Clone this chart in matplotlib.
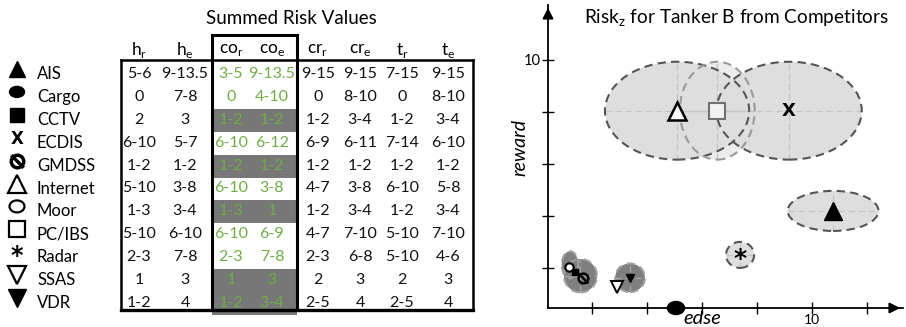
import matplotlib
matplotlib.use("Agg")
import matplotlib.pyplot as plt
from matplotlib.patches import Ellipse, Rectangle
from matplotlib.path import Path

plt.rcParams['font.family'] = ['Lato', 'DejaVu Sans']

# ---------------- data ----------------
components = ["AIS", "Cargo", "CCTV", "ECDIS", "GMDSS", "Internet", "Moor",
              "PC/IBS", "Radar", "SSAS", "VDR"]
h_r  = ["5-6", "0", "2", "6-10", "1-2", "5-10", "1-3", "5-10", "2-3", "1", "1-2"]
h_e  = ["9-13.5", "7-8", "3", "5-7", "1-2", "3-8", "3-4", "6-10", "7-8", "3", "4"]
co_r = ["3-5", "0", "1-2", "6-10", "1-2", "6-10", "1-3", "6-10", "2-3", "1", "1-2"]
co_e = ["9-13.5", "4-10", "1-2", "6-12", "1-2", "3-8", "1", "6-9", "7-8", "3", "3-4"]
cr_r = ["9-15", "0", "1-2", "6-9", "1-2", "4-7", "1-2", "4-7", "2-3", "2", "2-5"]
cr_e = ["9-15", "8-10", "3-4", "6-11", "1-2", "3-8", "3-4", "7-10", "6-8", "3", "4"]
t_r  = ["7-15", "0", "1-2", "7-14", "1-2", "6-10", "1-2", "5-10", "5-10", "2", "2-5"]
t_e  = ["9-15", "8-10", "3-4", "6-10", "1-2", "5-8", "3-4", "7-10", "4-6", "3", "4"]
co_shaded = [False, False, True, False, True, False, True, False, False, True, True]
col_headers = [("h", "r"), ("h", "e"), ("co", "r"), ("co", "e"),
               ("cr", "r"), ("cr", "e"), ("t", "r"), ("t", "e")]

# plot: ellipses (edse centre, reward centre, half-widths)
ell_names = ["Internet", "PC/IBS", "ECDIS", "AIS", "Radar", "VDR", "Moor", "CCTV/GMDSS"]
ell_x  = [5.09, 6.55, 9.16, 10.76, 7.38, 3.38, 1.20, 1.58]
ell_y  = [8.04, 8.04, 8.04, 4.19, 2.50, 1.62, 2.12, 1.70]
ell_rx = [2.62, 1.36, 2.64, 1.65, 0.51, 0.54, 0.30, 0.60]
ell_ry = [1.88, 1.88, 1.88, 0.77, 0.50, 0.55, 0.52, 0.64]

# plot: markers
pt_names = ["Internet", "PC/IBS", "ECDIS", "AIS", "Radar", "VDR", "SSAS",
            "Moor", "CCTV", "GMDSS", "Cargo"]
pt_x = [5.09, 6.55, 9.16, 10.76, 7.38, 3.38, 2.91, 1.16, 1.38, 1.67, 5.05]
pt_y = [8.04, 8.04, 8.04, 4.19, 2.50, 1.62, 1.27, 2.04, 1.85, 1.62, 0.46]

# ---------------- figure ----------------
fig = plt.figure(figsize=(9.06, 3.27), dpi=100)

# table area in pixel-like layout coordinates
axt = fig.add_axes([0, 0, 1, 1])
axt.set_xlim(0, 906)
axt.set_ylim(327, 0)
axt.axis('off')

GREEN = '#70ad47'
GRAY = '#777777'
row_y = [73 + 22.9 * i for i in range(len(components))]
col_x = [139, 185, 231, 272, 318, 360, 402, 448]
half = 11.45

axt.text(291, 18, "Summed Risk Values", ha='center', va='center', fontsize=13.5)

# shaded co cells
for i, sh in enumerate(co_shaded):
    if sh:
        axt.add_patch(Rectangle((212, row_y[i] - half + 1.5), 85, 2 * half,
                                facecolor=GRAY, edgecolor='none', zorder=1))

# table borders
lw = 1.8
axt.plot([121, 473], [60, 60], color='black', lw=lw, zorder=3)
axt.plot([121, 473], [310, 310], color='black', lw=lw + 0.6, zorder=3)
axt.plot([121, 121], [60, 310], color='black', lw=lw, zorder=3)
axt.plot([473, 473], [60, 310], color='black', lw=lw, zorder=3)
axt.add_patch(Rectangle((212, 35), 85, 275, facecolor='none', edgecolor='black',
                        lw=lw + 0.4, zorder=3))

# headers
for (base, sub), x in zip(col_headers, col_x):
    axt.text(x, 50, base + r"$_\mathregular{" + sub + "}$", ha='center',
             va='center', fontsize=12.5)

# body
columns = [h_r, h_e, co_r, co_e, cr_r, cr_e, t_r, t_e]
for j, (col, x) in enumerate(zip(columns, col_x)):
    color = GREEN if j in (2, 3) else '#111111'
    for i, val in enumerate(col):
        axt.text(x, row_y[i] + 1, val, ha='center', va='center', fontsize=11.5,
                 color=color, zorder=4)

# row labels and icons
slash = Path([(-0.75, 0.75), (0.75, -0.75)], [Path.MOVETO, Path.LINETO])
for i, name in enumerate(components):
    y = row_y[i]
    axt.text(37, y + 1, name, ha='left', va='center', fontsize=12)
    iy = y - 4
    if name == "AIS":
        axt.plot(17, iy, marker='^', ms=12, color='black')
    elif name == "Cargo":
        axt.add_patch(Ellipse((17, iy), 15, 11, color='black'))
    elif name == "CCTV":
        axt.plot(17, iy, marker='s', ms=10, color='black')
    elif name == "ECDIS":
        axt.text(17, iy + 1, "X", ha='center', va='center', fontsize=12,
                 fontweight='bold', family='DejaVu Sans')
    elif name == "GMDSS":
        axt.plot(17, iy, marker='o', ms=9, mfc='white', mec='black', mew=2.5)
        axt.plot(17, iy, marker=slash, ms=9, color='black', mew=2.5)
    elif name == "Internet":
        axt.plot(17, iy, marker='^', ms=13, mfc='white', mec='black', mew=1.6)
    elif name == "Moor":
        axt.add_patch(Ellipse((17, iy), 15, 12, facecolor='white',
                              edgecolor='black', lw=1.6))
    elif name == "PC/IBS":
        axt.plot(17, iy, marker='s', ms=11, mfc='white', mec='black', mew=1.6)
    elif name == "Radar":
        axt.text(17, iy + 4, "*", ha='center', va='center', fontsize=17,
                 fontweight='bold', family='DejaVu Sans')
    elif name == "SSAS":
        axt.plot(17, iy, marker='v', ms=13, mfc='white', mec='black', mew=1.6)
    elif name == "VDR":
        axt.plot(17, iy, marker='v', ms=13, color='black')

# ---------------- scatter / ellipse plot ----------------
x0, x1 = 0.4, 13.3
y0, y1 = 0.46, 12.1
ax = fig.add_axes([548 / 906, (327 - 308) / 327, 355 / 906, 303 / 327])
ax.set_xlim(x0, x1)
ax.set_ylim(y0, y1)
ax.patch.set_alpha(0)
for s in ['top', 'right']:
    ax.spines[s].set_visible(False)
for s in ['left', 'bottom']:
    ax.spines[s].set_linewidth(1.3)
ax.set_xticks([2, 4, 6, 8, 10, 12])
ax.set_xticklabels(['', '', '', '', '10', ''])
ax.set_yticks([2, 4, 6, 8, 10])
ax.set_yticklabels(['', '', '', '', '10'])
ax.tick_params(direction='inout', length=8, width=1.0, labelsize=10.5, pad=1)
ax.tick_params(axis='x', pad=0, labelsize=10)
ax.annotate('', xy=(1.0, 0), xycoords='axes fraction', xytext=(0.96, 0),
            arrowprops=dict(arrowstyle='-|>', color='black', lw=1.3,
                            mutation_scale=16), annotation_clip=False)
ax.annotate('', xy=(0, 1.0), xycoords='axes fraction', xytext=(0, 0.96),
            arrowprops=dict(arrowstyle='-|>', color='black', lw=1.3,
                            mutation_scale=16), annotation_clip=False)

ax.text(-0.078, (308 - 147) / 303, "reward", transform=ax.transAxes,
        rotation=90, ha='center', va='center', fontsize=14, style='italic')
ax.text(0.434, -0.034, "edse", transform=ax.transAxes, ha='center',
        va='center', fontsize=14.5, style='italic')
ax.text(0.53, (308 - 18) / 303, r"Risk$_\mathregular{z}$ for Tanker B from Competitors",
        transform=ax.transAxes, ha='center', va='center', fontsize=13.7)

LIGHT = '#dedede'
DARKFILL = '#7f7f7f'
EDGE = '#555555'
dash = (0, (4, 2.5))
styles = {
    "Internet": dict(fc=LIGHT, ec=EDGE, z=1),
    "PC/IBS": dict(fc='#ececec', ec='#9a9a9a', z=0.5),
    "ECDIS": dict(fc=LIGHT, ec=EDGE, z=1),
    "AIS": dict(fc=LIGHT, ec=EDGE, z=1),
    "Radar": dict(fc=LIGHT, ec=EDGE, z=1),
    "VDR": dict(fc=DARKFILL, ec='#a0a0a0', z=1),
    "Moor": dict(fc=DARKFILL, ec='#a0a0a0', z=1),
    "CCTV/GMDSS": dict(fc=DARKFILL, ec='#a0a0a0', z=1),
}
for n, cx, cy, rx, ry in zip(ell_names, ell_x, ell_y, ell_rx, ell_ry):
    st = styles[n]
    ax.add_patch(Ellipse((cx, cy), 2 * rx, 2 * ry, facecolor=st['fc'],
                         edgecolor='none', zorder=st['z']))
for n, cx, cy, rx, ry in zip(ell_names, ell_x, ell_y, ell_rx, ell_ry):
    st = styles[n]
    if n == "Moor":
        continue
    cl = '#c4c4c4' if st['fc'] == LIGHT or n == "PC/IBS" else '#a8a8a8'
    ax.plot([cx - rx, cx + rx], [cy, cy], color=cl, lw=0.9, ls=(0, (5, 3)), zorder=2)
    ax.plot([cx, cx], [cy - ry, cy + ry], color=cl, lw=0.9, ls=(0, (5, 3)), zorder=2)
for n, cx, cy, rx, ry in zip(ell_names, ell_x, ell_y, ell_rx, ell_ry):
    st = styles[n]
    ax.add_patch(Ellipse((cx, cy), 2 * rx, 2 * ry, facecolor='none',
                         edgecolor=st['ec'], lw=1.5, ls=dash, zorder=3))

P = dict(zip(pt_names, zip(pt_x, pt_y)))
ax.plot(*P["Internet"], marker='^', ms=13, mfc='white', mec='black', mew=1.8, zorder=5)
ax.plot(*P["PC/IBS"], marker='s', ms=12, mfc='#f2f2f2', mec='#707070', mew=1.5, zorder=5)
ax.text(*P["ECDIS"], "X", ha='center', va='center', fontsize=13,
        fontweight='bold', family='DejaVu Sans', zorder=5)
ax.plot(*P["AIS"], marker='^', ms=13, color='black', zorder=5)
ax.text(P["Radar"][0], P["Radar"][1] - 0.15, "*", ha='center', va='center',
        fontsize=18, fontweight='bold', family='DejaVu Sans', zorder=5)
ax.plot(*P["VDR"], marker='v', ms=6, color='black', zorder=5)
ax.plot(*P["SSAS"], marker='v', ms=8, mfc='white', mec='black', mew=1.4, zorder=5)
ax.plot(*P["Moor"], marker='o', ms=6, mfc='white', mec='black', mew=1.5, zorder=5)
ax.plot(*P["CCTV"], marker='s', ms=5, color='black', zorder=5)
ax.plot(*P["GMDSS"], marker='o', ms=7, mfc='none', mec='black', mew=1.8, zorder=5)
ax.plot(*P["GMDSS"], marker=slash, ms=7, color='black', mew=1.8, zorder=5)
ax.add_patch(Ellipse(P["Cargo"], 0.62, 0.5, color='black', zorder=6, clip_on=False))

fig.savefig("out.png", dpi=100)
